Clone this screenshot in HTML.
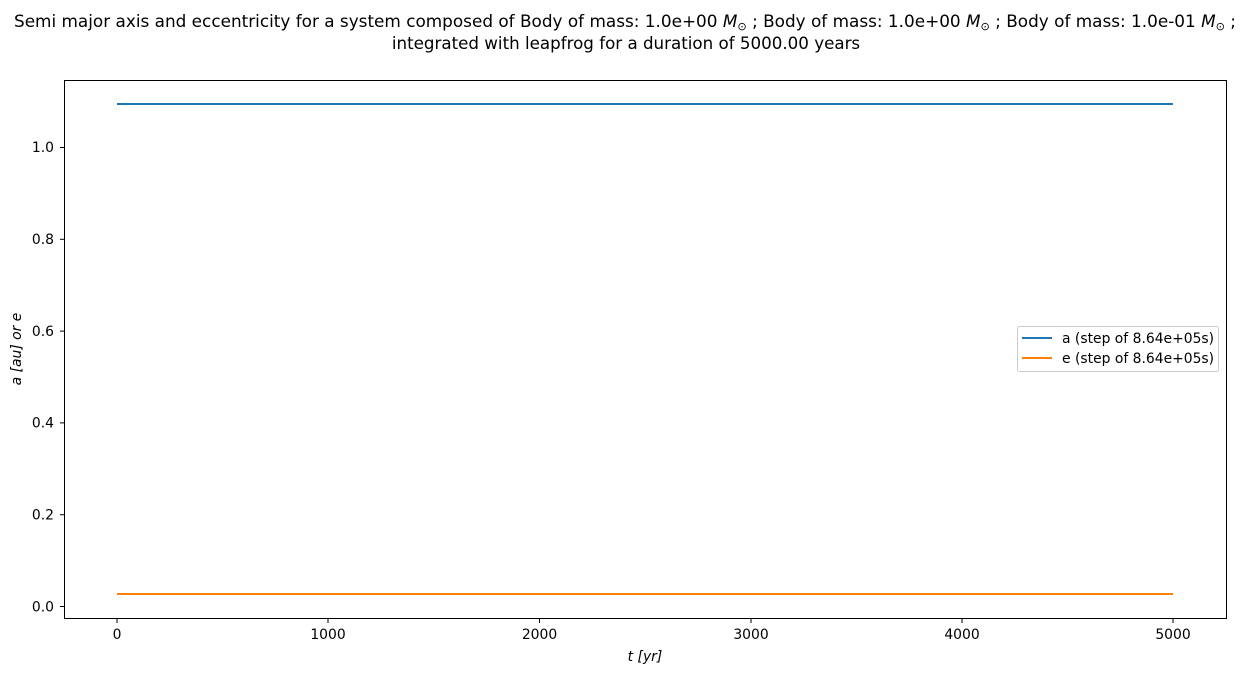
<!DOCTYPE html>
<html><head><meta charset="utf-8"><style>
html,body{margin:0;padding:0;background:#fff;}
svg{display:block;font-family:"DejaVu Sans","Liberation Sans",sans-serif;}
</style></head><body>
<svg width="1248" height="676" viewBox="0 0 1248 676" xmlns="http://www.w3.org/2000/svg">
<rect width="1248" height="676" fill="#fff"/>
<text x="625" y="27" font-size="16.7" text-anchor="middle" textLength="1222" lengthAdjust="spacingAndGlyphs">Semi major axis and eccentricity for a system composed of Body of mass: 1.0e+00 <tspan font-style="italic">M</tspan><tspan font-size="11" dy="3">⊙</tspan><tspan dy="-3"> ; Body of mass: 1.0e+00 </tspan><tspan font-style="italic">M</tspan><tspan font-size="11" dy="3">⊙</tspan><tspan dy="-3"> ; Body of mass: 1.0e-01 </tspan><tspan font-style="italic">M</tspan><tspan font-size="11" dy="3">⊙</tspan><tspan dy="-3"> ;</tspan></text>
<text x="626" y="49" font-size="16.7" text-anchor="middle">integrated with leapfrog for a duration of 5000.00 years</text>
<rect x="64.5" y="80.5" width="1162" height="538" fill="none" stroke="#000" stroke-width="1"/>
<g stroke="#000" stroke-width="1">
<line x1="117" y1="619" x2="117" y2="623"/><line x1="328" y1="619" x2="328" y2="623"/><line x1="539.5" y1="619" x2="539.5" y2="623"/><line x1="751" y1="619" x2="751" y2="623"/><line x1="962" y1="619" x2="962" y2="623"/><line x1="1173" y1="619" x2="1173" y2="623"/>
<line x1="60" y1="606.5" x2="64.5" y2="606.5"/><line x1="60" y1="514.7" x2="64.5" y2="514.7"/><line x1="60" y1="422.9" x2="64.5" y2="422.9"/><line x1="60" y1="331.1" x2="64.5" y2="331.1"/><line x1="60" y1="239.3" x2="64.5" y2="239.3"/><line x1="60" y1="147.5" x2="64.5" y2="147.5"/>
</g>
<g font-size="13.9" text-anchor="middle">
<text x="117" y="639">0</text><text x="328" y="639">1000</text><text x="539.5" y="639">2000</text><text x="751" y="639">3000</text><text x="962" y="639">4000</text><text x="1173" y="639">5000</text>
</g>
<g font-size="13.9" text-anchor="end">
<text x="54" y="611.5">0.0</text><text x="54" y="519.5">0.2</text><text x="54" y="427.5">0.4</text><text x="54" y="336">0.6</text><text x="54" y="244">0.8</text><text x="54" y="152">1.0</text>
</g>
<text x="645" y="661" font-size="13.9" text-anchor="middle" font-style="italic">t [yr]</text>
<text transform="translate(21,349) rotate(-90)" font-size="13.9" text-anchor="middle" font-style="italic">a [au] or e</text>
<line x1="117" y1="104" x2="1173" y2="104" stroke="#1f77b4" stroke-width="2"/>
<line x1="117" y1="594" x2="1173" y2="594" stroke="#ff7f0e" stroke-width="2"/>
<rect x="1017.5" y="326.5" width="201" height="45" rx="2" fill="#fff" stroke="#ccc" stroke-width="1"/>
<line x1="1022" y1="338" x2="1052" y2="338" stroke="#1f77b4" stroke-width="2"/>
<line x1="1022" y1="358" x2="1052" y2="358" stroke="#ff7f0e" stroke-width="2"/>
<text x="1062" y="343" font-size="13.9">a (step of 8.64e+05s)</text>
<text x="1062" y="363" font-size="13.9">e (step of 8.64e+05s)</text>
</svg>
</body></html>
